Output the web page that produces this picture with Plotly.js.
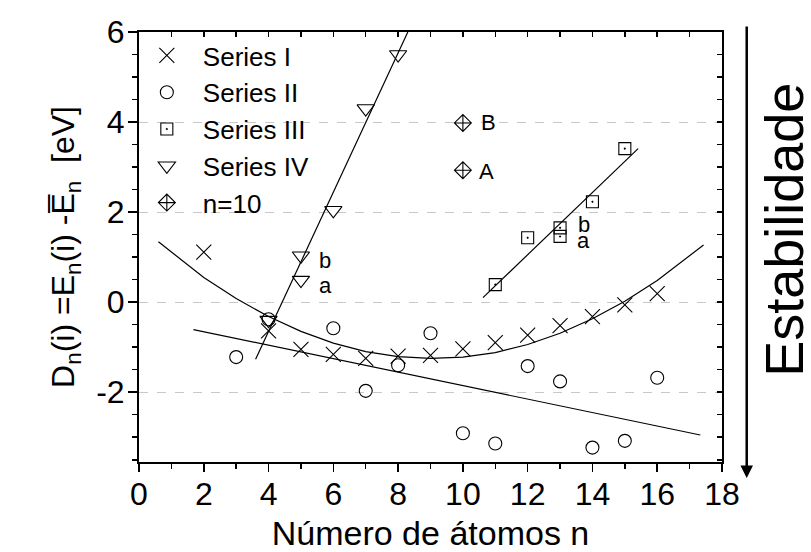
<!DOCTYPE html>
<html><head><meta charset="utf-8">
<script src="https://cdn.plot.ly/plotly-3.0.1.min.js"></script>
<style>html,body{margin:0;padding:0;background:#fff}</style>
</head><body>
<div id="chart" style="width:811px;height:552px"></div>
<script>
// Series data
var seriesI_x = [2, 4, 5, 6, 7, 8, 9, 10, 11, 12, 13, 14, 15, 16];
var seriesI_y = [1.11, -0.64, -1.05, -1.16, -1.25, -1.2, -1.18, -1.04, -0.9, -0.73, -0.52, -0.32, -0.06, 0.19];
var seriesII_x = [3, 4, 6, 7, 8, 9, 10, 11, 12, 13, 14, 15, 16];
var seriesII_y = [-1.22, -0.38, -0.58, -1.97, -1.4, -0.69, -2.91, -3.14, -1.42, -1.76, -3.23, -3.08, -1.68];
var seriesIII_x = [11, 12, 13, 13, 14, 15];
var seriesIII_y = [0.39, 1.43, 1.65, 1.46, 2.23, 3.41];
var seriesIV_x = [4, 5, 5, 6, 7, 8];
var seriesIV_y = [-0.4, 0.49, 1.03, 2.04, 4.3, 5.5];
var n10_x = [10, 10];
var n10_y = [3.98, 2.93];
// fitted curves
var fitIV_x = [3.6, 8.3];
var fitIV_y = [-1.27, 6.0];
var fitIII_x = [10.62, 15.41];
var fitIII_y = [0.1, 3.41];
var fitII_x = [1.68, 17.33];
var fitII_y = [-0.61, -2.95];
var fitI_x = [0.6, 2, 3, 4, 5, 6, 7, 8, 9, 10, 11, 12, 13, 14, 15, 16, 17.43];
var fitI_y = [1.34, 0.55, 0.08, -0.32, -0.65, -0.91, -1.1, -1.21, -1.25, -1.22, -1.12, -0.94, -0.69, -0.37, 0.02, 0.48, 1.27];
// point labels
var label_text = ['b', 'a', 'b', 'a', 'B', 'A'];
var label_x = [5.5, 5.5, 13.5, 13.46, 10.5, 10.44];
var label_y = [0.93, 0.38, 1.73, 1.36, 3.98, 2.91];
var x_ticks = [0, 2, 4, 6, 8, 10, 12, 14, 16, 18];
var y_ticks = [-2, 0, 2, 4, 6];

var FONT = 'Liberation Sans, Arial, sans-serif';
var black = '#000';

function lineTrace(x, y) {
  return {x: x, y: y, mode: 'lines', line: {color: black, width: 1.2},
          showlegend: false, hoverinfo: 'skip'};
}
function markTrace(x, y, name, symbol, size) {
  return {x: x, y: y, mode: 'markers', name: name,
          marker: {symbol: symbol, size: size, color: black,
                   line: {color: black, width: 1.1}},
          cliponaxis: false};
}

var data = [
  lineTrace(fitI_x, fitI_y),
  lineTrace(fitII_x, fitII_y),
  lineTrace(fitIII_x, fitIII_y),
  lineTrace(fitIV_x, fitIV_y),
  markTrace(seriesI_x, seriesI_y, 'Series I', 'x-thin-open', 15),
  markTrace(seriesII_x, seriesII_y, 'Series II', 'circle-open', 13),
  markTrace(seriesIII_x, seriesIII_y, 'Series III', 'square-open-dot', 12),
  markTrace(seriesIV_x, seriesIV_y, 'Series IV', 'triangle-down-open', 15),
  markTrace(n10_x, n10_y, 'n=10', 'diamond-cross-open', 13),
  {x: [], y: [], xaxis: 'x2', yaxis: 'y2', mode: 'markers', showlegend: false, hoverinfo: 'skip'}
];

var annotations = label_text.map(function (t, i) {
  return {x: label_x[i], y: label_y[i], xref: 'x', yref: 'y', text: t,
          showarrow: false, xanchor: 'left', yanchor: 'middle',
          font: {family: FONT, size: 22, color: black}};
});
annotations.push({xref: 'paper', yref: 'paper', x: 1.106, y: 0.5395,
  text: 'Estabilidade', textangle: -90, showarrow: false,
  xanchor: 'center', yanchor: 'middle', borderpad: 0,
  font: {family: FONT, size: 54, color: black}});
annotations.push({xref: 'paper', yref: 'paper', x: 1.0424, y: -0.037,
  text: '', showarrow: true, ax: 0, ay: -453, arrowhead: 2, arrowsize: 1,
  arrowwidth: 2.5, arrowcolor: black});

var layout = {
  width: 811, height: 552,
  margin: {l: 139, r: 89, t: 32, b: 90},
  paper_bgcolor: '#fff', plot_bgcolor: '#fff',
  font: {family: FONT, color: black},
  showlegend: true,
  legend: {x: -0.014, y: 1.0, xanchor: 'left', yanchor: 'top',
           itemwidth: 62,
           bgcolor: 'rgba(0,0,0,0)', borderwidth: 0,
           font: {family: FONT, size: 26, color: black}},
  xaxis: {range: [0, 18], tickvals: x_ticks, ticktext: x_ticks.map(String),
          ticks: 'outside', ticklen: 8, tickwidth: 1.5, tickcolor: black,
          ticklabelstandoff: -5,
          minor: {dtick: 1, ticks: 'outside', ticklen: 5, tickwidth: 1.5, tickcolor: black, showgrid: false},
          showline: true, linewidth: 2, linecolor: black, mirror: false,
          showgrid: false, zeroline: false,
          tickfont: {family: FONT, size: 32, color: black},
          title: {text: 'Número de átomos n', font: {family: FONT, size: 34, color: black}, standoff: 13},
          automargin: false},
  yaxis: {range: [-3.55, 6], tickvals: y_ticks, ticktext: y_ticks.map(String),
          ticks: 'outside', ticklen: 9, tickwidth: 1.5, tickcolor: black,
          ticklabelstandoff: -3,
          minor: {dtick: 0.5, ticks: 'outside', ticklen: 5, tickwidth: 1.5, tickcolor: black, showgrid: false},
          showline: true, linewidth: 2, linecolor: black, mirror: false,
          showgrid: true, gridcolor: '#c8c8c8', griddash: 'dash', gridwidth: 1,
          zeroline: false,
          tickfont: {family: FONT, size: 32, color: black},
          title: {text: 'D<sub>n</sub>(i) =E<sub>n</sub>(i) -E\u0305<sub>n</sub>  [eV]', font: {family: FONT, size: 32, color: black}, standoff: 12},
          automargin: false},
  xaxis2: {range: [0, 18], overlaying: 'x', side: 'top', anchor: 'y',
           dtick: 1, tick0: 0, ticks: 'inside', ticklen: 5, tickwidth: 1.5, tickcolor: black,
           showticklabels: false, showline: true, linewidth: 2, linecolor: black,
           showgrid: false, zeroline: false},
  yaxis2: {range: [-3.55, 6], overlaying: 'y', side: 'right', anchor: 'x',
           dtick: 0.5, tick0: 0, ticks: 'inside', ticklen: 5, tickwidth: 1.5, tickcolor: black,
           showticklabels: false, showline: true, linewidth: 2, linecolor: black,
           showgrid: false, zeroline: false},
  annotations: annotations
};

Plotly.newPlot('chart', data, layout, {displayModeBar: false, staticPlot: true});
</script>
</body></html>
